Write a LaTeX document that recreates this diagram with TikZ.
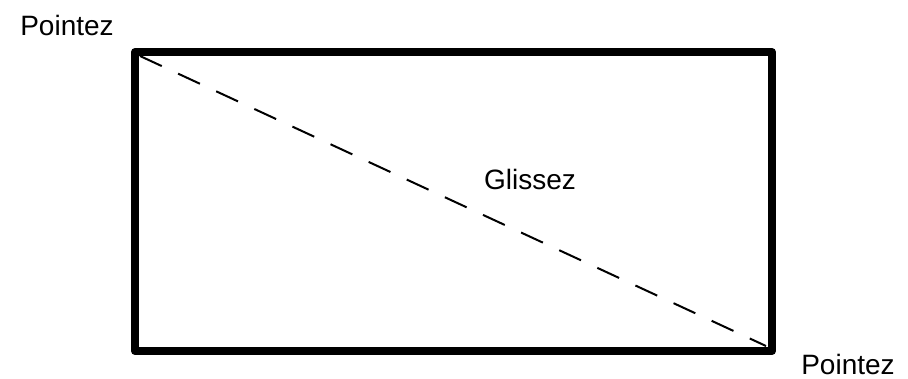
\documentclass[tikz,border=0pt]{standalone}
\usepackage{fontspec}
\setmainfont{Liberation Sans}
\usepackage{tikz}
\usetikzlibrary{calc}
\definecolor{InkBlack}{HTML}{000000}

\begin{document}
\begin{tikzpicture}[
    x=0.5pt, y=-0.5pt,
    every node/.style={font=\fontsize{14}{16}\selectfont, text=InkBlack, inner sep=0pt},
    frame/.style={InkBlack, line width=4pt, line join=round},
    glide/.style={InkBlack, line width=1pt, dash pattern=on 12pt off 9pt}
  ]
    \useasboundingbox (0,0) rectangle (908,379);
    % selection rectangle
    \coordinate (tl) at (135,52);
    \coordinate (br) at (772,351);
    \draw[frame] (tl) rectangle (br);
    % drag path
    \coordinate (start) at (140,56);
    \coordinate (stop) at (766,346);
    \draw[glide] (start) -- (stop);
    % labels
    \node (pointA) at (67,25) {Pointez};
    \node (glide) at (530,179) {Glissez};
    \node (pointB) at (848,364) {Pointez};
  \end{tikzpicture}
\end{document}
